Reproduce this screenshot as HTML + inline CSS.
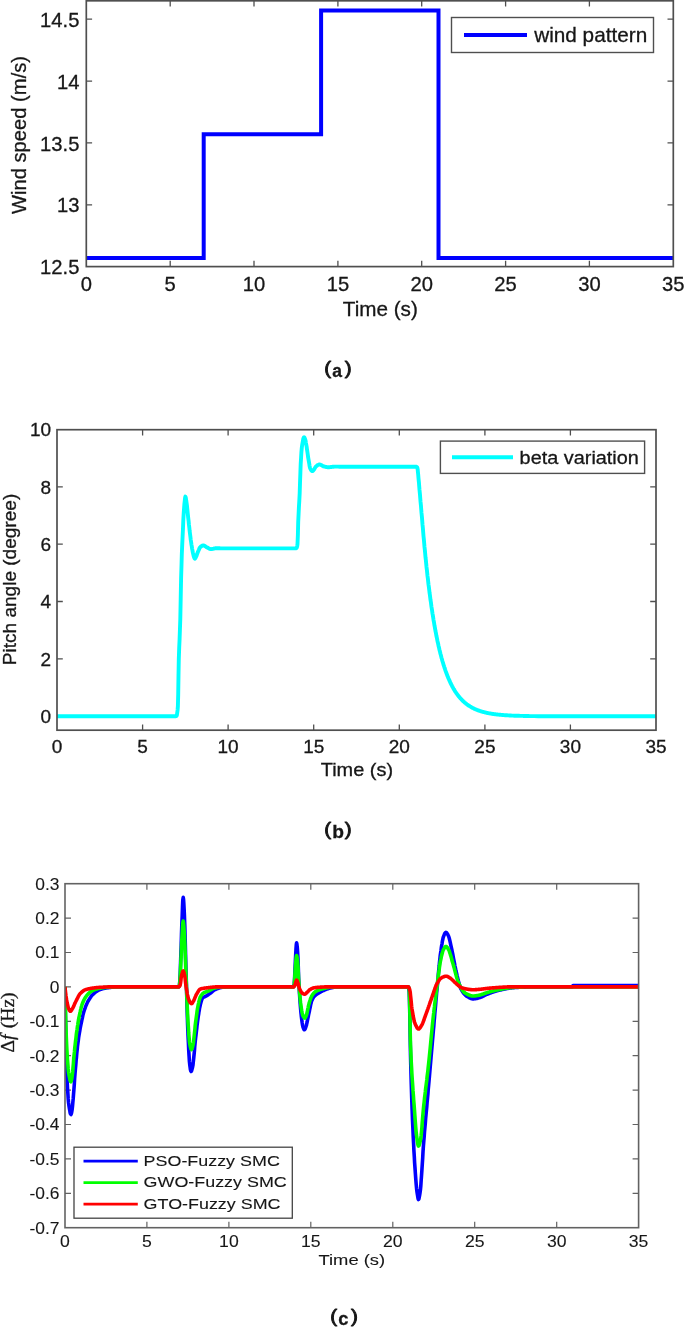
<!DOCTYPE html>
<html><head><meta charset="utf-8"><title>Figure</title>
<style>html,body{margin:0;padding:0;background:#fff;}body{width:685px;height:1327px;overflow:hidden;font-family:"Liberation Sans",sans-serif;}</style>
</head><body>
<svg width="685" height="1327" viewBox="0 0 685 1327" style="display:block">
<defs><filter id="soft" filterUnits="userSpaceOnUse" x="0" y="0" width="685" height="1327"><feGaussianBlur stdDeviation="0.4"/></filter>
<clipPath id="c1"><rect x="86.3" y="0" width="587" height="266.6"/></clipPath>
<clipPath id="c2"><rect x="57" y="429.7" width="599" height="300.3"/></clipPath>
<clipPath id="c3"><rect x="65" y="883.7" width="573.6" height="344"/></clipPath>
</defs>
<rect width="685" height="1327" fill="#fff"/>
<g filter="url(#soft)">
<path stroke="#505050" fill="none" stroke-width="1.3" d="M170.2,266.6v-5.8M170.2,0.8v5.8M254,266.6v-5.8M254,0.8v5.8M337.9,266.6v-5.8M337.9,0.8v5.8M421.7,266.6v-5.8M421.7,0.8v5.8M505.6,266.6v-5.8M505.6,0.8v5.8M589.4,266.6v-5.8M589.4,0.8v5.8M86.3,204.8h5.8M673.3,204.8h-5.8M86.3,142.9h5.8M673.3,142.9h-5.8M86.3,81.1h5.8M673.3,81.1h-5.8M86.3,19.2h5.8M673.3,19.2h-5.8"/>
<path d="M86.3,257.9 203.7,257.9 203.7,134.2 321.1,134.2 321.1,10.5 438.5,10.5 438.5,257.9 673.3,257.9" fill="none" stroke="#0000ff" stroke-width="4" stroke-linejoin="miter" clip-path="url(#c1)"/>
<rect x="86.3" y="0.8" width="587" height="265.8" stroke="#505050" stroke-width="1.7" fill="none"/>
<text x="86.3" y="291" font-family="Liberation Sans, sans-serif" font-size="20.2" text-anchor="middle" fill="#161616" stroke="#161616" stroke-width="0.3" >0</text>
<text x="170.2" y="291" font-family="Liberation Sans, sans-serif" font-size="20.2" text-anchor="middle" fill="#161616" stroke="#161616" stroke-width="0.3" >5</text>
<text x="254" y="291" font-family="Liberation Sans, sans-serif" font-size="20.2" text-anchor="middle" fill="#161616" stroke="#161616" stroke-width="0.3" >10</text>
<text x="337.9" y="291" font-family="Liberation Sans, sans-serif" font-size="20.2" text-anchor="middle" fill="#161616" stroke="#161616" stroke-width="0.3" >15</text>
<text x="421.7" y="291" font-family="Liberation Sans, sans-serif" font-size="20.2" text-anchor="middle" fill="#161616" stroke="#161616" stroke-width="0.3" >20</text>
<text x="505.6" y="291" font-family="Liberation Sans, sans-serif" font-size="20.2" text-anchor="middle" fill="#161616" stroke="#161616" stroke-width="0.3" >25</text>
<text x="589.4" y="291" font-family="Liberation Sans, sans-serif" font-size="20.2" text-anchor="middle" fill="#161616" stroke="#161616" stroke-width="0.3" >30</text>
<text x="673.3" y="291" font-family="Liberation Sans, sans-serif" font-size="20.2" text-anchor="middle" fill="#161616" stroke="#161616" stroke-width="0.3" >35</text>
<text x="79.4" y="274.2" font-family="Liberation Sans, sans-serif" font-size="20.2" text-anchor="end" fill="#161616" stroke="#161616" stroke-width="0.3" >12.5</text>
<text x="79.4" y="212.3" font-family="Liberation Sans, sans-serif" font-size="20.2" text-anchor="end" fill="#161616" stroke="#161616" stroke-width="0.3" >13</text>
<text x="79.4" y="150.5" font-family="Liberation Sans, sans-serif" font-size="20.2" text-anchor="end" fill="#161616" stroke="#161616" stroke-width="0.3" >13.5</text>
<text x="79.4" y="88.7" font-family="Liberation Sans, sans-serif" font-size="20.2" text-anchor="end" fill="#161616" stroke="#161616" stroke-width="0.3" >14</text>
<text x="79.4" y="26.8" font-family="Liberation Sans, sans-serif" font-size="20.2" text-anchor="end" fill="#161616" stroke="#161616" stroke-width="0.3" >14.5</text>
<text transform="translate(380.3,315.8) scale(1.023,1)" font-family="Liberation Sans, sans-serif" font-size="20.2" text-anchor="middle" fill="#161616" stroke="#161616" stroke-width="0.3" >Time (s)</text>
<text transform="translate(25.9,135) rotate(-90) scale(1.0,1.0)" font-family="Liberation Sans, sans-serif" font-size="20.2" text-anchor="middle" fill="#161616" stroke="#161616" stroke-width="0.3">Wind speed (m/s)</text>
<rect x="451.5" y="17.5" width="202" height="35" fill="#fff" stroke="#505050" stroke-width="1.4"/>
<path d="M464,35 H527" stroke="#0000ff" stroke-width="4"/>
<text transform="translate(534.2,42) scale(1.027,1)" font-family="Liberation Sans, sans-serif" font-size="20.2" text-anchor="start" fill="#161616" stroke="#161616" stroke-width="0.3" >wind pattern</text>
<text transform="translate(324.2,374.2) scale(1.15,1)" font-family="Liberation Sans, sans-serif" font-size="18" fill="#161616" stroke="#161616" stroke-width="0.9" stroke-linejoin="round">(</text>
<text x="332.2" y="376.7" font-family="Liberation Sans, sans-serif" font-size="17.5" font-weight="bold" fill="#161616" stroke="#161616" stroke-width="0.3">a</text>
<text transform="translate(344.8,374.2) scale(1.15,1)" font-family="Liberation Sans, sans-serif" font-size="18" fill="#161616" stroke="#161616" stroke-width="0.9" stroke-linejoin="round">)</text>
<path stroke="#505050" fill="none" stroke-width="1.3" d="M142.6,730.2v-5.8M142.6,429.7v5.8M228.1,730.2v-5.8M228.1,429.7v5.8M313.7,730.2v-5.8M313.7,429.7v5.8M399.3,730.2v-5.8M399.3,429.7v5.8M484.9,730.2v-5.8M484.9,429.7v5.8M570.4,730.2v-5.8M570.4,429.7v5.8M57.0,716.3h5.8M656.0,716.3h-5.8M57.0,658.9h5.8M656.0,658.9h-5.8M57.0,601.5h5.8M656.0,601.5h-5.8M57.0,544.2h5.8M656.0,544.2h-5.8M57.0,486.8h5.8M656.0,486.8h-5.8"/>
<path d="M57,716.3 175.5,716.3 175.9,716.2 176.2,716.1 176.6,715.8 176.9,715 177.2,713 177.6,710 177.9,706 178.2,694.4 178.5,675.1 178.8,659 179.2,647.6 179.6,639 179.9,630.3 180.3,619 180.7,598.6 181.1,578 181.5,565.3 181.8,554.5 182.2,545.1 182.6,536.5 183,528.1 183.3,520.3 183.7,513.4 184.1,508 184.4,504 184.8,500.4 185.1,497.7 185.4,496.6 185.8,497.7 186.2,500.2 186.6,503 187,506.1 187.4,509.9 187.8,513.9 188.2,517.7 188.6,520.9 188.9,524.2 189.3,527.4 189.6,530.6 190,533.7 190.4,536.7 190.7,539.5 191.1,542 191.4,544.3 191.8,546.5 192.1,548.6 192.5,550.6 192.8,552.4 193.2,554 193.5,555.3 193.8,556.5 194.2,557.6 194.5,558.4 194.8,558.7 195.2,558.5 195.5,557.9 195.8,557.2 196.2,556.5 196.6,555.6 196.9,554.6 197.3,553.5 197.7,552.5 198,551.7 198.4,550.8 198.8,550 199.1,549.2 199.4,548.4 199.8,547.8 200.2,547.3 200.5,546.9 200.8,546.6 201.2,546.4 201.6,546.1 201.9,545.9 202.2,545.7 202.6,545.6 203,545.5 203.3,545.5 203.7,545.5 204.1,545.6 204.4,545.8 204.8,546 205.2,546.2 205.6,546.5 206,546.7 206.3,547 206.7,547.2 207.1,547.4 207.5,547.6 207.8,547.8 208.2,548 208.6,548.3 208.9,548.5 209.3,548.7 209.7,548.8 210.1,549 210.4,549.1 210.8,549.1 211.2,549.1 211.6,549.1 211.9,549 212.3,548.9 212.7,548.9 213.1,548.8 213.5,548.7 213.8,548.6 214.2,548.5 214.6,548.4 215,548.4 215.4,548.3 215.7,548.2 216.1,548.2 216.5,548.2 216.9,548.2 217.3,548.2 217.7,548.2 218.1,548.2 218.5,548.3 218.9,548.3 219.2,548.3 219.6,548.3 220,548.3 220.4,548.4 220.8,548.4 221.2,548.4 221.6,548.4 222,548.4 295.5,548.4 295.9,548.4 296.2,548.2 296.6,548 296.9,547.4 297.2,546.1 297.5,544 297.9,534.5 298.2,522 298.6,513.9 298.9,507.3 299.3,500.8 299.7,493 300,483.3 300.4,472.3 300.7,463.8 301.1,457.4 301.4,452.1 301.8,447.8 302.2,444.8 302.6,442.5 303,440.4 303.3,438.7 303.7,437.6 304.1,437.2 304.5,437.6 304.8,438.4 305.2,439.5 305.6,440.9 305.9,442.8 306.3,444.8 306.7,447 307,449.4 307.4,452 307.8,454.7 308.1,457.2 308.5,459.4 308.9,461.7 309.3,464 309.6,466.1 310,467.8 310.4,468.9 310.8,469.6 311.2,470.2 311.6,470.7 312,471 312.4,471.1 312.7,471 313,470.7 313.4,470.3 313.7,469.9 314,469.5 314.4,469 314.7,468.4 315.1,467.7 315.4,467.1 315.8,466.7 316.2,466.3 316.6,466 317,465.6 317.4,465.3 317.8,465.1 318.2,464.8 318.6,464.7 319,464.5 319.4,464.5 319.8,464.5 320.1,464.6 320.5,464.7 320.9,464.9 321.2,465.1 321.6,465.3 322,465.5 322.3,465.7 322.7,465.9 323.1,466.1 323.4,466.3 323.8,466.4 324.2,466.5 324.6,466.6 325,466.7 325.4,466.8 325.8,466.9 326.2,467 326.6,467.1 327,467.1 327.4,467.2 327.8,467.2 328.2,467.2 328.6,467.2 329,467.2 329.4,467.2 329.7,467.1 330.1,467.1 330.5,467.1 330.9,467 331.3,467 331.7,466.9 332,466.9 332.4,466.8 332.8,466.8 333.2,466.7 333.6,466.7 334,466.7 334.3,466.6 334.7,466.6 335.1,466.6 335.5,466.6 335.9,466.6 336.3,466.6 336.6,466.6 337,466.6 337.4,466.6 337.8,466.6 338.2,466.6 338.6,466.6 338.9,466.7 339.3,466.7 339.7,466.7 340.1,466.7 340.5,466.7 340.9,466.7 341.2,466.7 341.6,466.7 342,466.7 415.9,466.7 416.2,466.7 416.6,466.8 416.9,467 417.2,467.4 417.4,468.3 417.7,469.5 417.9,471.7 418.2,474.6 418.5,478.3 418.9,482.2 419.2,486.1 419.5,489.9 419.9,493.7 420.2,497.6 420.5,501.4 420.9,505.2 421.2,509.1 421.5,512.9 421.9,516.7 422.2,520.5 422.5,524.5 422.9,528.4 423.2,532.3 423.5,536.1 423.9,539.8 424.2,543.4 424.5,547 424.9,550.5 425.2,553.9 425.5,557.3 425.9,560.5 426.2,563.8 426.5,566.9 426.9,570 427.2,573 427.5,576 427.9,578.8 428.2,581.7 428.5,584.5 428.9,587.2 429.2,589.8 429.5,592.4 429.9,595 430.2,597.5 430.5,599.9 430.9,602.3 431.2,604.7 431.5,607 431.9,609.3 432.2,611.5 432.5,613.6 432.9,615.7 433.2,617.8 433.5,619.8 433.9,621.8 434.2,623.8 434.5,625.7 434.9,627.6 435.2,629.4 435.5,631.2 435.9,632.9 436.2,634.7 436.5,636.3 436.9,638 437.2,639.6 437.5,641.2 437.9,642.7 438.2,644.2 438.5,645.7 438.9,647.2 439.2,648.6 439.5,650 439.9,651.4 440.2,652.7 440.5,654 440.9,655.3 441.2,656.6 441.5,657.8 441.9,659 442.2,660.2 442.5,661.3 442.9,662.5 443.2,663.6 443.5,664.7 443.9,665.7 444.2,666.8 444.5,667.8 444.9,668.8 445.2,669.8 445.5,670.7 445.9,671.7 446.2,672.6 446.5,673.5 446.9,674.4 447.2,675.2 447.5,676.1 447.9,676.9 448.2,677.7 448.5,678.5 448.9,679.3 449.2,680.1 449.5,680.8 449.9,681.5 450.2,682.3 450.5,683 450.9,683.7 451.2,684.3 451.5,685 451.9,685.6 452.2,686.3 452.5,686.9 452.9,687.5 453.2,688.1 453.5,688.7 453.9,689.2 454.2,689.8 454.5,690.3 454.9,690.9 455.2,691.4 455.5,691.9 455.9,692.4 456.2,692.9 456.5,693.4 456.9,693.9 457.2,694.3 457.5,694.8 457.9,695.2 458.2,695.7 458.5,696.1 458.9,696.5 459.2,696.9 459.5,697.3 459.9,697.7 460.2,698.1 460.5,698.5 460.9,698.8 461.2,699.2 461.5,699.5 461.9,699.9 462.2,700.2 462.5,700.6 462.9,700.9 463.2,701.2 463.5,701.5 463.9,701.8 464.2,702.1 464.5,702.4 464.9,702.7 465.2,703 465.5,703.2 465.9,703.5 466.2,703.8 466.5,704 466.9,704.3 467.2,704.5 467.5,704.8 467.9,705 468.2,705.2 468.5,705.5 468.9,705.7 469.2,705.9 469.5,706.1 469.9,706.3 470.2,706.5 470.6,706.8 471,707 471.4,707.2 471.8,707.5 472.2,707.7 472.6,707.9 473,708.1 473.4,708.3 473.8,708.5 474.2,708.7 474.6,708.9 475,709.1 475.4,709.3 475.8,709.4 476.2,709.6 476.6,709.8 477,709.9 477.4,710.1 477.8,710.2 478.2,710.4 478.6,710.5 479,710.7 479.4,710.8 479.8,710.9 480.2,711.1 480.6,711.2 481,711.3 481.4,711.5 481.8,711.6 482.2,711.7 482.6,711.8 483,711.9 483.4,712 483.8,712.1 484.2,712.2 484.6,712.3 485,712.4 485.4,712.5 485.8,712.6 486.2,712.7 486.6,712.8 487,712.9 487.4,713 487.8,713.1 488.2,713.1 488.6,713.2 489,713.3 489.4,713.4 489.8,713.4 490.2,713.5 490.6,713.6 491,713.6 491.4,713.7 491.8,713.8 492.2,713.8 492.6,713.9 493,714 493.4,714 493.8,714.1 494.2,714.1 494.6,714.2 495,714.2 495.4,714.3 495.8,714.3 496.2,714.4 496.6,714.4 497,714.5 497.4,714.5 497.8,714.6 498.2,714.6 498.6,714.6 499,714.7 499.4,714.7 499.8,714.8 500.2,714.8 500.6,714.8 501,714.9 501.4,714.9 501.8,714.9 502.2,715 502.6,715 503,715 503.4,715.1 503.8,715.1 504.2,715.1 504.6,715.2 505,715.2 505.4,715.2 505.8,715.2 506.2,715.3 506.6,715.3 507,715.3 507.4,715.3 507.8,715.4 508.2,715.4 508.6,715.4 509,715.4 509.4,715.5 509.8,715.5 510.2,715.5 510.6,715.5 510.9,715.5 511.3,715.6 511.7,715.6 512,715.6 512.4,715.6 512.7,715.6 513.1,715.6 513.5,715.6 513.8,715.7 514.2,715.7 514.6,715.7 515,715.7 515.4,715.7 515.8,715.7 516.2,715.7 516.6,715.8 517,715.8 517.4,715.8 517.8,715.8 518.2,715.8 518.6,715.8 519,715.8 519.4,715.8 519.8,715.9 520.2,715.9 520.6,715.9 521,715.9 521.4,715.9 521.8,715.9 522.2,715.9 522.6,715.9 523,715.9 523.4,715.9 523.8,716 524.2,716 524.6,716 525,716 525.4,716 525.8,716 526.2,716 526.6,716 527,716 527.4,716 527.8,716 528.2,716 528.6,716 529,716.1 529.4,716.1 529.8,716.1 530.2,716.1 530.6,716.1 531,716.1 531.4,716.1 531.8,716.1 532.2,716.1 532.6,716.1 533,716.1 533.4,716.1 533.8,716.1 534.2,716.1 538.2,716.2 542.2,716.2 542.6,716.2 543,716.2 543.4,716.2 543.7,716.2 544.1,716.2 544.5,716.2 544.9,716.2 545.3,716.3 545.7,716.3 546.1,716.3 546.5,716.3 546.8,716.3 547.2,716.3 547.6,716.3 548,716.3 656,716.3" fill="none" stroke="#00ffff" stroke-width="3.9" stroke-linejoin="round" clip-path="url(#c2)"/>
<rect x="57.0" y="429.7" width="599" height="300.5" stroke="#505050" stroke-width="1.7" fill="none"/>
<text x="57" y="753.3" font-family="Liberation Sans, sans-serif" font-size="19" text-anchor="middle" fill="#161616" stroke="#161616" stroke-width="0.3" >0</text>
<text x="142.6" y="753.3" font-family="Liberation Sans, sans-serif" font-size="19" text-anchor="middle" fill="#161616" stroke="#161616" stroke-width="0.3" >5</text>
<text x="228.1" y="753.3" font-family="Liberation Sans, sans-serif" font-size="19" text-anchor="middle" fill="#161616" stroke="#161616" stroke-width="0.3" >10</text>
<text x="313.7" y="753.3" font-family="Liberation Sans, sans-serif" font-size="19" text-anchor="middle" fill="#161616" stroke="#161616" stroke-width="0.3" >15</text>
<text x="399.3" y="753.3" font-family="Liberation Sans, sans-serif" font-size="19" text-anchor="middle" fill="#161616" stroke="#161616" stroke-width="0.3" >20</text>
<text x="484.9" y="753.3" font-family="Liberation Sans, sans-serif" font-size="19" text-anchor="middle" fill="#161616" stroke="#161616" stroke-width="0.3" >25</text>
<text x="570.4" y="753.3" font-family="Liberation Sans, sans-serif" font-size="19" text-anchor="middle" fill="#161616" stroke="#161616" stroke-width="0.3" >30</text>
<text x="656" y="753.3" font-family="Liberation Sans, sans-serif" font-size="19" text-anchor="middle" fill="#161616" stroke="#161616" stroke-width="0.3" >35</text>
<text x="51.2" y="723.2" font-family="Liberation Sans, sans-serif" font-size="19" text-anchor="end" fill="#161616" stroke="#161616" stroke-width="0.3" >0</text>
<text x="51.2" y="665.8" font-family="Liberation Sans, sans-serif" font-size="19" text-anchor="end" fill="#161616" stroke="#161616" stroke-width="0.3" >2</text>
<text x="51.2" y="608.4" font-family="Liberation Sans, sans-serif" font-size="19" text-anchor="end" fill="#161616" stroke="#161616" stroke-width="0.3" >4</text>
<text x="51.2" y="551.1" font-family="Liberation Sans, sans-serif" font-size="19" text-anchor="end" fill="#161616" stroke="#161616" stroke-width="0.3" >6</text>
<text x="51.2" y="493.7" font-family="Liberation Sans, sans-serif" font-size="19" text-anchor="end" fill="#161616" stroke="#161616" stroke-width="0.3" >8</text>
<text x="51.2" y="436.3" font-family="Liberation Sans, sans-serif" font-size="19" text-anchor="end" fill="#161616" stroke="#161616" stroke-width="0.3" >10</text>
<text transform="translate(356.9,775.7) scale(1.09,1)" font-family="Liberation Sans, sans-serif" font-size="18.3" text-anchor="middle" fill="#161616" stroke="#161616" stroke-width="0.3" >Time (s)</text>
<text transform="translate(15.9,579.5) rotate(-90) scale(1.03,1.0)" font-family="Liberation Sans, sans-serif" font-size="18.5" text-anchor="middle" fill="#161616" stroke="#161616" stroke-width="0.3">Pitch angle (degree)</text>
<rect x="440.4" y="441.1" width="204.2" height="32.3" fill="#fff" stroke="#505050" stroke-width="1.4"/>
<path d="M452,457.2 H513" stroke="#00ffff" stroke-width="4"/>
<text transform="translate(519.6,463.6) scale(1.075,1)" font-family="Liberation Sans, sans-serif" font-size="18.5" text-anchor="start" fill="#161616" stroke="#161616" stroke-width="0.3" >beta variation</text>
<text transform="translate(324.2,835) scale(1.15,1)" font-family="Liberation Sans, sans-serif" font-size="18" fill="#161616" stroke="#161616" stroke-width="0.9" stroke-linejoin="round">(</text>
<text x="332.2" y="837.5" font-family="Liberation Sans, sans-serif" font-size="19.2" font-weight="bold" fill="#161616" stroke="#161616" stroke-width="0.3">b</text>
<text transform="translate(344.8,835) scale(1.15,1)" font-family="Liberation Sans, sans-serif" font-size="18" fill="#161616" stroke="#161616" stroke-width="0.9" stroke-linejoin="round">)</text>
<path stroke="#626262" fill="none" stroke-width="1.2" d="M146.9,1227.7v-6M146.9,883.7v6M228.9,1227.7v-6M228.9,883.7v6M310.8,1227.7v-6M310.8,883.7v6M392.8,1227.7v-6M392.8,883.7v6M474.7,1227.7v-6M474.7,883.7v6M556.7,1227.7v-6M556.7,883.7v6M65.0,1193.3h6M638.6,1193.3h-6M65.0,1158.9h6M638.6,1158.9h-6M65.0,1124.5h6M638.6,1124.5h-6M65.0,1090.1h6M638.6,1090.1h-6M65.0,1055.7h6M638.6,1055.7h-6M65.0,1021.3h6M638.6,1021.3h-6M65.0,986.9h6M638.6,986.9h-6M65.0,952.5h6M638.6,952.5h-6M65.0,918.1h6M638.6,918.1h-6"/>
<g clip-path="url(#c3)" fill="none" stroke-linejoin="round">
<path d="M65,986.9 65.2,1004.7 65.5,1020 65.9,1040 66.3,1056 66.6,1065.8 66.9,1074.6 67.2,1082.1 67.5,1088 67.9,1093.9 68.2,1098.9 68.6,1103 69,1106 69.4,1108.5 69.8,1110.8 70.1,1112.7 70.5,1114 70.9,1114.5 71.2,1114 71.6,1112.7 71.9,1111 72.2,1109 72.5,1106.4 72.8,1102.8 73.2,1098.7 73.5,1094.6 73.9,1089.7 74.3,1084.4 74.6,1079 75,1073.8 75.4,1069 75.8,1064.8 76.1,1060.8 76.5,1056.8 76.8,1053.1 77.2,1049.6 77.5,1046.3 77.9,1043.3 78.3,1040.5 78.6,1037.8 79,1035.3 79.4,1033 79.8,1030.8 80.1,1028.7 80.5,1026.7 80.9,1024.7 81.3,1022.8 81.7,1020.9 82.1,1019 82.5,1017.3 82.8,1015.6 83.2,1014.1 83.6,1012.6 84,1011.2 84.4,1010 84.8,1008.9 85.2,1007.8 85.5,1006.8 85.9,1005.8 86.3,1004.9 86.7,1004 87.1,1003.2 87.4,1002.4 87.8,1001.7 88.2,1001 88.6,1000.3 89,999.7 89.4,999 89.8,998.4 90.2,997.8 90.6,997.2 90.9,996.7 91.3,996.2 91.7,995.7 92.1,995.2 92.5,994.8 92.9,994.4 93.3,994 93.7,993.7 94.1,993.3 94.4,993 94.8,992.7 95.2,992.4 95.6,992.1 95.9,991.8 96.3,991.5 96.7,991.3 97.1,991 97.4,990.8 97.8,990.6 98.2,990.4 98.6,990.2 98.9,990 99.3,989.8 99.7,989.7 100.1,989.6 100.5,989.4 100.9,989.3 101.3,989.2 101.7,989.1 102,988.9 102.4,988.8 102.8,988.7 103.2,988.6 103.6,988.5 104,988.4 104.4,988.3 104.8,988.2 105.2,988.2 105.6,988.1 106,988 106.4,987.9 106.7,987.9 107.1,987.8 107.5,987.8 107.9,987.7 108.3,987.6 108.7,987.6 109.1,987.6 109.5,987.5 109.9,987.5 110.2,987.4 110.6,987.4 111,987.3 111.4,987.3 111.8,987.3 112.2,987.2 112.6,987.2 113,987.2 113.3,987.1 113.7,987.1 114.1,987.1 114.5,987 114.9,987 115.3,987 115.7,987 116.1,986.9 116.5,986.9 116.8,986.9 117.2,986.9 117.6,986.9 118,986.9 178.5,986.9 178.8,986.7 179.2,986 179.5,985 179.8,981.1 180.2,973.5 180.5,965 180.8,955.8 181.2,945 181.5,934.2 181.8,925 182.2,915.9 182.5,907 182.8,900.1 183.2,897.4 183.5,899 183.8,903.2 184.1,908.8 184.4,915 184.8,925.6 185.2,939.8 185.6,955.4 186,970 186.4,983.9 186.8,998.3 187.2,1012.2 187.6,1024.8 188,1035 188.4,1042.7 188.7,1049.9 189.1,1056.3 189.4,1061.4 189.8,1065 190.1,1067.4 190.4,1069.5 190.8,1070.9 191.1,1071.5 191.5,1071.1 191.8,1070.1 192.2,1068.6 192.6,1067 193,1064.9 193.3,1061.9 193.7,1058.3 194.1,1054.3 194.5,1050 194.8,1045.7 195.2,1041.7 195.6,1038.1 196,1034.7 196.4,1031.3 196.8,1028 197.1,1024.9 197.5,1021.9 197.9,1019.1 198.2,1016.7 198.6,1014.4 198.9,1012.2 199.3,1010.1 199.6,1008.1 200,1006.4 200.3,1004.9 200.7,1003.3 201.1,1001.8 201.5,1000.4 201.9,999.3 202.3,998.4 202.7,997.8 203.1,997.5 203.4,997.3 203.8,997.1 204.1,996.9 204.5,996.8 204.8,996.7 205.2,996.5 205.5,996.4 205.9,996.2 206.3,996 206.7,995.7 207.1,995.5 207.5,995.2 207.9,995 208.2,994.7 208.6,994.4 209,994.1 209.4,993.9 209.8,993.6 210.2,993.3 210.6,993 211,992.7 211.4,992.4 211.8,992 212.2,991.7 212.6,991.3 212.9,991 213.3,990.7 213.7,990.4 214.1,990.1 214.5,989.9 214.9,989.7 215.3,989.5 215.7,989.4 216.1,989.2 216.5,989 216.9,988.8 217.3,988.7 217.7,988.5 218.1,988.4 218.5,988.2 218.8,988.1 219.2,988 219.6,987.9 220,987.7 220.4,987.6 220.8,987.5 221.2,987.5 221.6,987.4 222,987.3 222.4,987.3 222.8,987.2 223.2,987.2 223.6,987.2 224,987.2 224.3,987.1 224.7,987.1 225.1,987.1 225.5,987.1 225.9,987.1 226.3,987 226.6,987 227,987 227.4,987 227.8,987 228.2,987 228.6,987 228.9,986.9 229.3,986.9 229.7,986.9 230.1,986.9 230.5,986.9 230.9,986.9 231.2,986.9 231.6,986.9 232,986.9 293.2,986.9 293.5,986.5 293.9,985.5 294.2,984 294.6,978.4 295,968.8 295.4,960 295.7,954.5 296,948.9 296.3,944.5 296.6,942.8 296.9,944.2 297.3,947.7 297.6,952 298,958.5 298.3,967.6 298.6,977.2 299,985 299.4,991.9 299.8,998.2 300.2,1003.9 300.6,1008.8 301,1013 301.4,1016.7 301.8,1020 302.2,1023 302.6,1025.4 303,1027 303.4,1028 303.7,1028.9 304,1029.6 304.4,1029.8 304.7,1029.6 305,1029.1 305.4,1028.3 305.7,1027.4 306,1026.5 306.4,1025.4 306.7,1023.9 307.1,1022.3 307.4,1020.6 307.8,1018.7 308.2,1016.9 308.5,1015.1 308.9,1013.4 309.3,1011.7 309.6,1009.9 310,1008.1 310.4,1006.2 310.7,1004.5 311.1,1003 311.4,1001.6 311.8,1000.6 312.2,999.8 312.5,999 312.9,998.4 313.2,997.8 313.6,997.2 314,996.7 314.3,996.3 314.7,995.9 315.1,995.5 315.5,995.2 315.9,994.8 316.3,994.5 316.7,994.3 317,994 317.4,993.8 317.8,993.5 318.2,993.3 318.6,993.1 319,992.8 319.4,992.6 319.8,992.4 320.2,992.2 320.6,991.9 320.9,991.7 321.3,991.5 321.7,991.3 322.1,991.1 322.5,990.9 322.9,990.7 323.3,990.5 323.7,990.4 324,990.2 324.4,990 324.8,989.9 325.2,989.7 325.6,989.5 326,989.4 326.4,989.2 326.8,989.1 327.2,989 327.6,988.8 328,988.7 328.3,988.5 328.7,988.4 329.1,988.3 329.5,988.2 329.9,988.1 330.3,988 330.7,987.9 331.1,987.8 331.5,987.7 331.9,987.6 332.3,987.6 332.7,987.5 333.1,987.4 333.5,987.3 333.9,987.2 334.2,987.2 334.6,987.1 335,987 335.4,987 335.8,987 336.2,986.9 336.6,986.9 337,986.9 408.3,986.9 408.6,987.6 408.9,989.4 409.2,992 409.5,1001.2 409.9,1018.7 410.2,1038.5 410.5,1055 410.9,1070.3 411.3,1084.6 411.7,1097.7 412.1,1109.5 412.5,1120 412.9,1128.4 413.2,1136.3 413.6,1143.6 413.9,1150.4 414.3,1156.7 414.6,1162.6 415,1168 415.4,1173.8 415.8,1179.3 416.2,1184.4 416.6,1188.7 417,1192 417.4,1194.6 417.8,1197 418.1,1198.8 418.5,1199.5 418.9,1198.9 419.2,1197.4 419.6,1195.3 420,1193 420.4,1190.1 420.8,1186.1 421.1,1181.4 421.5,1175.9 421.9,1170.1 422.3,1163.9 422.7,1157.8 423,1151.8 423.4,1146.1 423.8,1141 424.2,1136.4 424.5,1131.9 424.9,1127.6 425.3,1123.3 425.6,1119 426,1114.8 426.4,1110.7 426.8,1106.5 427.1,1102.4 427.5,1098.3 427.9,1094.1 428.2,1089.9 428.6,1085.7 429,1081.1 429.4,1076.5 429.8,1071.8 430.2,1067.2 430.6,1062.5 431,1057.9 431.4,1053.3 431.8,1048.6 432.2,1044 432.6,1039.4 433,1034.8 433.4,1030.2 433.8,1026.1 434.1,1021.9 434.5,1017.7 434.8,1013.5 435.2,1009.3 435.6,1005.2 435.9,1001.1 436.3,997.1 436.6,993.1 437,989.2 437.4,985.3 437.7,981.3 438.1,977.4 438.4,973.4 438.8,969.5 439.2,965.8 439.5,962.2 439.9,958.8 440.2,955.8 440.6,953 441,950.4 441.3,947.9 441.7,945.4 442.1,943.2 442.4,941.1 442.8,939.3 443.1,937.8 443.5,936.6 443.9,935.6 444.3,934.6 444.7,933.7 445.1,933 445.5,932.6 445.9,932.4 446.2,932.5 446.6,932.8 446.9,933.2 447.3,933.7 447.6,934.3 448,934.9 448.3,935.6 448.7,936.5 449.1,937.8 449.5,939.3 449.9,940.9 450.3,942.7 450.7,944.6 451.1,946.4 451.5,948.2 451.9,949.9 452.2,951.7 452.6,953.5 453,955.4 453.3,957.4 453.7,959.4 454.1,961.4 454.5,963.4 454.8,965.3 455.2,967.2 455.6,969 455.9,970.7 456.3,972.3 456.7,973.8 457,975.4 457.4,976.9 457.8,978.5 458.1,980 458.5,981.4 458.9,982.8 459.3,984.2 459.6,985.4 460,986.5 460.4,987.6 460.7,988.5 461.1,989.2 461.5,989.9 461.9,990.5 462.2,991.1 462.6,991.7 463,992.3 463.4,992.8 463.8,993.3 464.1,993.8 464.5,994.2 464.9,994.6 465.3,995 465.7,995.4 466.1,995.7 466.4,996 466.8,996.3 467.2,996.5 467.6,996.7 468,997 468.4,997.2 468.8,997.4 469.2,997.7 469.6,997.9 470,998.1 470.4,998.2 470.8,998.4 471.2,998.5 471.6,998.7 472,998.8 472.4,998.8 472.8,998.9 473.2,998.9 473.6,998.9 474,998.9 474.3,998.8 474.7,998.8 475.1,998.7 475.5,998.7 475.8,998.6 476.2,998.5 476.6,998.4 477,998.4 477.4,998.3 477.7,998.2 478.1,998 478.5,997.9 478.9,997.8 479.2,997.7 479.6,997.6 480,997.5 480.4,997.4 480.8,997.2 481.1,997.1 481.5,996.9 481.9,996.8 482.3,996.6 482.7,996.4 483.1,996.2 483.4,996 483.8,995.8 484.2,995.6 484.6,995.4 485,995.2 485.4,995 485.7,994.8 486.1,994.7 486.5,994.5 486.9,994.3 487.3,994.2 487.7,994 488.1,993.9 488.5,993.7 488.9,993.6 489.3,993.4 489.7,993.2 490.1,993.1 490.5,992.9 490.9,992.8 491.3,992.6 491.7,992.5 492.1,992.3 492.5,992.2 492.9,992.1 493.3,991.9 493.7,991.8 494.1,991.7 494.5,991.5 494.9,991.4 495.3,991.3 495.7,991.1 496.1,991 496.5,990.9 496.9,990.8 497.3,990.7 497.7,990.6 498.1,990.5 498.5,990.4 498.9,990.3 499.3,990.2 499.7,990.1 500.1,990 500.5,989.9 500.9,989.9 501.3,989.8 501.6,989.7 502,989.6 502.4,989.5 502.8,989.4 503.2,989.3 503.6,989.2 504,989.2 504.4,989.1 504.8,989 505.2,988.9 505.6,988.8 506,988.8 506.4,988.7 506.8,988.6 507.1,988.5 507.5,988.5 507.9,988.4 508.3,988.3 508.7,988.3 509.1,988.2 509.5,988.1 509.9,988.1 510.3,988 510.7,988 511.1,987.9 511.5,987.9 511.9,987.8 512.3,987.8 512.6,987.7 513,987.7 513.4,987.6 513.8,987.6 514.2,987.6 514.6,987.5 515,987.5 515.4,987.5 515.8,987.5 516.2,987.5 516.6,987.4 517,987.4 517.4,987.4 517.8,987.4 518.1,987.4 518.5,987.3 518.9,987.3 519.3,987.3 519.7,987.3 520.1,987.3 520.5,987.3 520.9,987.2 521.3,987.2 521.7,987.2 522.1,987.2 522.5,987.2 522.8,987.2 523.2,987.1 523.6,987.1 524,987.1 524.4,987.1 524.8,987.1 525.2,987.1 525.6,987.1 526,987 526.4,987 526.8,987 527.2,987 527.6,987 527.9,987 528.3,987 528.7,987 529.1,987 529.5,987 529.9,986.9 530.3,986.9 530.7,986.9 531.1,986.9 531.5,986.9 531.9,986.9 532.3,986.9 532.6,986.9 533,986.9 533.4,986.9 533.8,986.9 534.2,986.9 534.6,986.9 535,986.9 572,986.9 572.3,986.6 572.7,985.9 573,985.6 638.6,985.6" stroke="#0000ff" stroke-width="3.6"/>
<path d="M65,986.9 65.2,999.2 65.5,1010 65.9,1025 66.3,1037 66.6,1044 66.9,1050.2 67.2,1055.6 67.5,1060 67.9,1064.8 68.2,1069 68.6,1072.5 69,1075 69.4,1077 69.8,1078.9 70.1,1080.4 70.5,1081.4 70.9,1081.8 71.2,1081.2 71.6,1079.6 72,1077.4 72.3,1075 72.7,1071.9 73,1067.9 73.4,1063.4 73.7,1058.9 74.1,1054.9 74.5,1051.2 74.8,1047.6 75.2,1044.2 75.6,1040.8 76,1037.6 76.3,1034.6 76.7,1031.8 77.1,1029.3 77.4,1026.8 77.8,1024.5 78.1,1022.3 78.5,1020.2 78.8,1018.2 79.2,1016.4 79.6,1014.7 79.9,1013 80.3,1011.4 80.6,1009.8 81,1008.4 81.3,1007 81.7,1005.7 82,1004.6 82.4,1003.6 82.8,1002.7 83.2,1001.8 83.5,1000.9 83.9,1000.1 84.3,999.4 84.7,998.7 85,998 85.4,997.4 85.8,996.8 86.2,996.3 86.5,995.8 86.9,995.3 87.3,994.8 87.7,994.4 88.1,994 88.5,993.5 88.9,993.2 89.3,992.8 89.7,992.4 90.1,992.1 90.5,991.8 90.9,991.5 91.3,991.3 91.7,991 92.1,990.8 92.5,990.6 92.9,990.4 93.2,990.2 93.6,990.1 94,989.9 94.4,989.8 94.7,989.6 95.1,989.5 95.5,989.3 95.9,989.2 96.2,989.1 96.6,989 97,988.9 97.4,988.8 97.7,988.7 98.1,988.6 98.5,988.5 98.9,988.4 99.3,988.3 99.7,988.3 100,988.2 100.4,988.1 100.8,988.1 101.2,988 101.6,987.9 102,987.9 102.3,987.8 102.7,987.8 103.1,987.7 103.5,987.7 103.9,987.6 104.3,987.6 104.7,987.5 105,987.5 105.4,987.5 105.8,987.4 106.2,987.4 106.6,987.4 107,987.3 107.4,987.3 107.8,987.3 108.2,987.2 108.6,987.2 109,987.2 109.4,987.1 109.8,987.1 110.2,987.1 110.6,987.1 111,987 111.4,987 111.8,987 112.2,987 112.6,987 113,986.9 113.4,986.9 113.8,986.9 114.2,986.9 114.6,986.9 115,986.9 178.5,986.9 178.8,986.7 179.2,986 179.5,985 179.8,981.9 180.2,976.3 180.5,970 180.8,963.1 181.2,954.8 181.5,946.7 181.8,940 182.2,933.7 182.5,927.6 182.8,922.9 183.2,921.1 183.5,922.4 183.8,925.7 184.1,930.2 184.4,935 184.8,942.9 185.2,953.3 185.6,964.5 186,975 186.4,985.1 186.8,995.5 187.2,1005.5 187.6,1014.6 188,1022 188.4,1027.7 188.7,1033 189.1,1037.6 189.4,1041.4 189.8,1044 190.2,1046.1 190.6,1047.9 191,1049.1 191.4,1049.6 191.8,1049.2 192.2,1048.1 192.6,1046.7 193,1045 193.4,1043 193.7,1040.1 194.1,1036.6 194.5,1032.9 194.9,1029.1 195.2,1025.5 195.6,1022.3 196,1019.4 196.4,1016.4 196.8,1013.6 197.1,1011 197.5,1008.6 197.9,1006.5 198.2,1004.8 198.6,1003.1 198.9,1001.6 199.3,1000.1 199.6,998.9 200,997.8 200.3,997 200.7,996.3 201.1,995.6 201.5,995 201.9,994.5 202.3,994 202.7,993.6 203.1,993.3 203.5,993 203.9,992.8 204.3,992.5 204.7,992.3 205.1,992.2 205.5,992 205.9,991.9 206.2,991.7 206.6,991.6 207,991.4 207.4,991.3 207.8,991.2 208.2,991 208.6,990.9 209,990.7 209.4,990.5 209.7,990.3 210.1,990.1 210.5,989.9 210.8,989.7 211.2,989.5 211.6,989.3 212,989.1 212.3,988.9 212.7,988.7 213.1,988.5 213.4,988.4 213.8,988.3 214.2,988.2 214.6,988.1 215,988 215.4,987.9 215.8,987.8 216.2,987.8 216.5,987.7 216.9,987.6 217.3,987.5 217.7,987.4 218.1,987.4 218.5,987.3 218.9,987.3 219.3,987.2 219.7,987.1 220.1,987.1 220.5,987 220.8,987 221.2,987 221.6,987 222,986.9 222.4,986.9 222.8,986.9 223.2,986.9 293.2,986.9 293.5,986.6 293.9,985.7 294.2,984.5 294.6,980.3 295,973.2 295.4,967 295.7,963.3 296,959.6 296.3,956.7 296.6,955.6 296.9,956.6 297.3,959 297.6,962 298,966.5 298.3,972.8 298.6,979.4 299,985 299.4,990.1 299.8,994.8 300.2,999.1 300.6,1002.9 301,1006 301.4,1008.7 301.8,1011.1 302.2,1013.2 302.6,1014.9 303,1016 303.4,1016.6 303.7,1017.2 304.1,1017.7 304.4,1018 304.8,1018.1 305.2,1017.9 305.6,1017.2 305.9,1016.4 306.3,1015.5 306.7,1014.4 307,1012.9 307.4,1011.1 307.8,1009.2 308.2,1007.3 308.5,1005.6 308.9,1004.1 309.3,1002.9 309.6,1001.6 310,1000.5 310.4,999.4 310.7,998.3 311.1,997.4 311.4,996.6 311.8,995.9 312.2,995.3 312.6,994.7 313,994.1 313.4,993.6 313.7,993.2 314.1,992.8 314.5,992.4 314.9,992.1 315.3,991.8 315.7,991.5 316.1,991.3 316.5,991.1 316.9,990.9 317.3,990.7 317.7,990.5 318.1,990.3 318.5,990.2 318.9,990 319.3,989.9 319.7,989.7 320.1,989.6 320.5,989.5 320.9,989.3 321.3,989.2 321.7,989.1 322.1,989 322.5,988.9 322.9,988.8 323.3,988.7 323.7,988.6 324.1,988.5 324.5,988.4 324.8,988.3 325.2,988.2 325.6,988.1 326,988 326.4,987.9 326.8,987.8 327.2,987.8 327.6,987.7 328,987.6 328.4,987.6 328.8,987.5 329.1,987.4 329.5,987.3 329.9,987.2 330.3,987.2 330.7,987.1 331.1,987.1 331.5,987 331.8,987 332.2,986.9 332.6,986.9 333,986.9 408.3,986.9 408.6,987.3 408.9,988.4 409.2,990 409.5,998 409.9,1013.9 410.2,1031.5 410.5,1044.7 410.9,1053.7 411.2,1061.4 411.6,1068.1 411.9,1074.2 412.3,1080 412.7,1085.6 413,1090.7 413.4,1095.6 413.7,1100.3 414.1,1105 414.5,1110.5 414.9,1116.1 415.3,1121.7 415.7,1126.9 416.1,1131.4 416.5,1135 416.9,1138.1 417.3,1141 417.7,1143.6 418.1,1145.3 418.5,1146 418.9,1145.7 419.2,1145 419.6,1143.8 419.9,1142.5 420.3,1141 420.7,1138.9 421.1,1135.8 421.5,1132 421.9,1127.6 422.2,1122.9 422.6,1118.1 423,1113.4 423.4,1109 423.8,1105 424.2,1101.6 424.5,1098.3 424.9,1095.1 425.3,1092 425.6,1089 426,1085.9 426.4,1082.9 426.8,1079.9 427.1,1076.8 427.5,1073.8 427.9,1070.6 428.2,1067.4 428.6,1064 429,1060.2 429.4,1056.3 429.8,1052.2 430.2,1048.1 430.6,1043.9 431,1039.6 431.4,1035.4 431.8,1031.3 432.2,1027.2 432.6,1023.2 433,1019.4 433.4,1015.7 433.8,1012.5 434.1,1009.5 434.5,1006.5 434.8,1003.6 435.2,1000.7 435.6,997.9 435.9,995.1 436.3,992.3 436.6,989.6 437,986.8 437.4,984 437.7,981.1 438.1,978.1 438.4,975.2 438.8,972.3 439.2,969.5 439.5,966.9 439.9,964.4 440.2,962.2 440.6,960.3 441,958.6 441.3,956.9 441.7,955.3 442.1,953.8 442.4,952.5 442.8,951.3 443.1,950.3 443.5,949.5 443.9,948.8 444.3,948.1 444.7,947.4 445.1,947 445.5,946.6 445.9,946.5 446.3,946.6 446.6,946.8 447,947.2 447.4,947.7 447.8,948.3 448.1,948.9 448.5,949.5 448.9,950.2 449.3,951.1 449.6,952.2 450,953.3 450.4,954.6 450.8,955.9 451.2,957.3 451.6,958.7 451.9,960.1 452.3,961.4 452.7,962.7 453.1,964 453.5,965.5 453.9,966.9 454.3,968.4 454.7,970 455.1,971.5 455.5,973 455.9,974.5 456.3,976 456.7,977.4 457.1,978.8 457.5,980 457.9,981.2 458.3,982.3 458.7,983.2 459.1,984 459.5,984.8 459.8,985.6 460.2,986.4 460.6,987.1 461,987.8 461.4,988.5 461.8,989.2 462.1,989.8 462.5,990.4 462.9,990.9 463.3,991.4 463.7,991.8 464,992.2 464.4,992.5 464.8,992.8 465.2,993.1 465.6,993.3 466,993.5 466.4,993.8 466.8,994 467.2,994.2 467.6,994.4 468,994.6 468.4,994.8 468.8,995 469.2,995.1 469.6,995.3 470,995.4 470.4,995.6 470.8,995.7 471.2,995.8 471.6,995.9 472,995.9 472.4,996 472.8,996 473.2,996 473.6,996 474,996 474.3,996 474.7,995.9 475.1,995.9 475.5,995.8 475.8,995.8 476.2,995.7 476.6,995.7 477,995.6 477.4,995.5 477.7,995.5 478.1,995.4 478.5,995.3 478.9,995.2 479.2,995.2 479.6,995.1 480,995 480.4,994.9 480.8,994.8 481.1,994.7 481.5,994.6 481.9,994.5 482.3,994.3 482.7,994.2 483.1,994 483.4,993.9 483.8,993.8 484.2,993.6 484.6,993.5 485,993.3 485.4,993.2 485.7,993 486.1,992.9 486.5,992.8 486.9,992.7 487.3,992.6 487.7,992.4 488.1,992.3 488.5,992.2 488.9,992.1 489.3,992 489.7,991.9 490.1,991.7 490.5,991.6 490.9,991.5 491.3,991.4 491.7,991.3 492.1,991.2 492.5,991.1 492.9,991 493.3,990.9 493.7,990.8 494.1,990.7 494.5,990.6 494.9,990.5 495.3,990.4 495.7,990.3 496.1,990.2 496.5,990.1 496.9,990 497.3,989.9 497.7,989.9 498.1,989.8 498.5,989.7 498.9,989.6 499.3,989.6 499.7,989.5 500.1,989.4 500.5,989.3 500.9,989.3 501.3,989.2 501.6,989.1 502,989 502.4,989 502.8,988.9 503.2,988.8 503.6,988.8 504,988.7 504.4,988.6 504.8,988.5 505.2,988.5 505.6,988.4 506,988.3 506.4,988.3 506.8,988.2 507.1,988.2 507.5,988.1 507.9,988 508.3,988 508.7,987.9 509.1,987.9 509.5,987.8 509.9,987.8 510.3,987.7 510.7,987.7 511.1,987.6 511.5,987.6 511.9,987.5 512.3,987.5 512.6,987.5 513,987.4 513.4,987.4 513.8,987.4 514.2,987.4 514.6,987.3 515,987.3 515.4,987.3 515.8,987.3 516.2,987.3 516.6,987.3 517,987.2 517.4,987.2 517.8,987.2 518.1,987.2 518.5,987.2 518.9,987.2 519.3,987.2 519.7,987.2 520.1,987.1 520.5,987.1 520.9,987.1 521.3,987.1 521.7,987.1 522.1,987.1 522.5,987.1 522.8,987.1 523.2,987.1 523.6,987 524,987 524.4,987 524.8,987 525.2,987 525.6,987 526,987 526.4,987 526.8,987 527.2,987 527.6,987 527.9,987 528.3,987 528.7,986.9 529.1,986.9 529.5,986.9 529.9,986.9 530.3,986.9 530.7,986.9 531.1,986.9 531.5,986.9 531.9,986.9 532.3,986.9 532.6,986.9 533,986.9 533.4,986.9 533.8,986.9 534.2,986.9 534.6,986.9 535,986.9 638.6,986.9" stroke="#00ff00" stroke-width="3.6"/>
<path d="M65,986.9 65.3,990.3 65.7,993.4 66,996 66.3,998 66.6,999.9 66.9,1001.5 67.2,1003 67.6,1004.7 68,1006.4 68.3,1007.8 68.7,1008.8 69.1,1009.7 69.5,1010.5 69.9,1011.1 70.3,1011.3 70.7,1011.2 71,1010.8 71.4,1010.3 71.8,1009.7 72.1,1009.1 72.5,1008.5 72.9,1007.9 73.2,1007.2 73.6,1006.4 74,1005.5 74.3,1004.7 74.7,1003.8 75,1003 75.4,1002.3 75.8,1001.5 76.2,1000.7 76.6,999.9 77,999.1 77.4,998.3 77.8,997.6 78.1,996.8 78.5,996.1 78.9,995.4 79.3,994.8 79.7,994.2 80.1,993.7 80.5,993.3 80.9,992.9 81.3,992.5 81.7,992.2 82.1,991.8 82.5,991.5 82.9,991.2 83.2,990.9 83.6,990.7 84,990.4 84.4,990.2 84.8,990 85.2,989.8 85.6,989.7 86,989.6 86.4,989.4 86.8,989.3 87.1,989.2 87.5,989.1 87.9,989 88.3,988.9 88.7,988.8 89.1,988.7 89.4,988.6 89.8,988.6 90.2,988.5 90.6,988.4 91,988.3 91.4,988.3 91.8,988.2 92.1,988.2 92.5,988.1 92.9,988.1 93.3,988 93.7,988 94.1,987.9 94.5,987.9 94.9,987.8 95.3,987.8 95.6,987.7 96,987.7 96.4,987.6 96.8,987.6 97.2,987.6 97.6,987.5 98,987.5 98.4,987.5 98.8,987.4 99.2,987.4 99.6,987.4 100,987.3 100.3,987.3 100.7,987.3 101.1,987.3 101.5,987.2 101.9,987.2 102.3,987.2 102.7,987.2 103.1,987.2 103.5,987.1 103.8,987.1 104.2,987.1 104.6,987.1 105,987.1 105.4,987 105.8,987 106.2,987 106.5,987 106.9,987 107.3,987 107.7,986.9 108.1,986.9 108.5,986.9 108.8,986.9 109.2,986.9 109.6,986.9 110,986.9 178.8,986.9 179.2,986.7 179.6,986.2 180,985.5 180.4,983.9 180.8,981.2 181.1,978.2 181.5,976 181.8,974.6 182.2,973.2 182.5,972 182.9,971.2 183.2,970.9 183.5,971.3 183.9,972.2 184.2,973.5 184.6,975 185,977.3 185.3,980.4 185.7,983.8 186.1,986.7 186.5,989.1 186.9,991.4 187.2,993.6 187.6,995.5 188,997 188.4,998.4 188.8,999.7 189.2,1000.8 189.6,1001.7 190,1002.3 190.4,1002.8 190.8,1003.2 191.2,1003.5 191.6,1003.6 192,1003.4 192.4,1003 192.7,1002.4 193.1,1001.7 193.5,1001 193.9,1000.3 194.2,999.5 194.6,998.7 194.9,997.8 195.3,996.9 195.7,996 196,995.2 196.4,994.5 196.8,993.8 197.2,993.1 197.6,992.4 198,991.8 198.4,991.1 198.7,990.5 199.1,990 199.5,989.6 199.9,989.3 200.3,989.1 200.7,989 201.1,988.8 201.5,988.7 201.9,988.6 202.3,988.5 202.7,988.5 203.1,988.4 203.5,988.3 203.9,988.3 204.2,988.2 204.6,988.1 205,988.1 205.4,988 205.8,988 206.2,987.9 206.6,987.9 207,987.8 207.4,987.8 207.8,987.7 208.2,987.7 208.6,987.6 209,987.6 209.4,987.5 209.8,987.5 210.2,987.4 210.6,987.4 211,987.3 211.4,987.3 211.8,987.2 212.2,987.2 212.5,987.2 212.9,987.1 213.3,987.1 213.7,987 214.1,987 214.5,987 214.9,987 215.3,986.9 215.7,986.9 216.1,986.9 216.5,986.9 216.9,986.9 293.7,986.9 294,986.7 294.4,986.3 294.7,985.7 295,985 295.3,984.1 295.6,982.8 296,981.5 296.3,980.5 296.6,980.1 297,980.5 297.4,981.4 297.8,982.5 298.2,983.8 298.5,985.4 298.9,986.8 299.2,987.8 299.6,988.7 299.9,989.5 300.3,990.3 300.6,990.9 301,991.5 301.4,992.1 301.8,992.6 302.2,993.1 302.6,993.5 303,993.7 303.4,993.9 303.7,994 304.1,994.1 304.4,994.2 304.8,994.2 305.2,994.1 305.5,993.9 305.9,993.6 306.3,993.2 306.6,992.8 307,992.5 307.4,992.1 307.8,991.7 308.1,991.3 308.5,990.9 308.9,990.5 309.2,990.1 309.6,989.8 310,989.5 310.4,989.3 310.8,989.1 311.2,988.9 311.6,988.7 312,988.5 312.4,988.3 312.7,988.2 313.1,988.1 313.5,987.9 313.9,987.8 314.3,987.8 314.7,987.7 315.1,987.7 315.5,987.6 315.9,987.6 316.3,987.5 316.7,987.5 317,987.4 317.4,987.4 317.8,987.4 318.2,987.3 318.6,987.3 319,987.3 319.4,987.2 319.8,987.2 320.2,987.2 320.6,987.1 321,987.1 321.3,987.1 321.7,987.1 322.1,987 322.5,987 322.9,987 323.3,987 323.7,987 324.1,987 324.5,986.9 324.9,986.9 325.3,986.9 325.6,986.9 326,986.9 326.4,986.9 326.8,986.9 327.2,986.9 327.6,986.9 408.5,986.9 408.8,987.2 409.1,987.9 409.5,988.9 409.8,990 410.2,992 410.5,995.1 410.9,998.8 411.3,1002.6 411.6,1006.2 412,1009 412.4,1011.3 412.8,1013.6 413.1,1015.7 413.5,1017.7 413.9,1019.5 414.2,1021.1 414.6,1022.4 415,1023.5 415.4,1024.4 415.8,1025.3 416.2,1026.2 416.6,1026.9 416.9,1027.6 417.3,1028.2 417.7,1028.6 418.1,1028.9 418.5,1029 418.9,1028.9 419.2,1028.7 419.6,1028.3 420,1027.8 420.4,1027.3 420.8,1026.7 421.1,1026.1 421.5,1025.5 421.9,1024.8 422.3,1024.1 422.7,1023.2 423.1,1022.2 423.5,1021.2 423.9,1020.2 424.2,1019.1 424.6,1017.9 425,1016.8 425.4,1015.7 425.8,1014.6 426.2,1013.5 426.6,1012.4 427,1011.3 427.4,1010.2 427.8,1009.1 428.2,1007.9 428.6,1006.8 429,1005.6 429.4,1004.5 429.8,1003.3 430.2,1002.2 430.6,1001 431,999.9 431.4,998.7 431.8,997.6 432.2,996.5 432.6,995.5 432.9,994.4 433.3,993.3 433.7,992.2 434,991.1 434.4,990 434.8,988.9 435.2,987.9 435.5,986.9 435.9,985.9 436.3,985.1 436.6,984.3 437,983.6 437.4,983 437.8,982.3 438.1,981.7 438.5,981.1 438.9,980.6 439.2,980 439.6,979.5 440,979.1 440.4,978.7 440.8,978.3 441.1,978 441.5,977.8 441.9,977.6 442.3,977.4 442.7,977.2 443.1,977 443.5,976.8 443.9,976.7 444.2,976.5 444.6,976.4 445,976.3 445.4,976.3 445.8,976.2 446.2,976.2 446.6,976.2 447,976.3 447.4,976.4 447.8,976.6 448.2,976.8 448.5,977 448.9,977.3 449.3,977.5 449.7,977.8 450.1,978 450.5,978.3 450.9,978.6 451.3,978.9 451.6,979.2 452,979.6 452.4,979.9 452.8,980.3 453.2,980.7 453.6,981.1 454,981.5 454.3,981.9 454.7,982.3 455.1,982.6 455.5,982.9 455.9,983.3 456.3,983.7 456.7,984 457.1,984.4 457.5,984.8 457.9,985.1 458.3,985.5 458.7,985.8 459.1,986.1 459.5,986.5 459.9,986.8 460.3,987 460.7,987.3 461.1,987.5 461.5,987.7 461.9,987.9 462.3,988 462.7,988.1 463.1,988.2 463.5,988.3 463.9,988.4 464.2,988.5 464.6,988.6 465,988.7 465.4,988.8 465.8,988.9 466.2,988.9 466.6,989 467,989.1 467.4,989.2 467.8,989.2 468.1,989.3 468.5,989.3 468.9,989.4 469.3,989.4 469.7,989.5 470.1,989.5 470.5,989.6 470.9,989.6 471.3,989.6 471.6,989.7 472,989.7 472.4,989.7 472.8,989.7 473.2,989.7 473.6,989.7 474,989.7 474.4,989.7 474.8,989.7 475.2,989.7 475.6,989.6 476,989.6 476.3,989.6 476.7,989.6 477.1,989.5 477.5,989.5 477.9,989.5 478.3,989.4 478.7,989.4 479.1,989.4 479.5,989.3 479.9,989.3 480.3,989.2 480.7,989.2 481.1,989.2 481.5,989.1 481.9,989.1 482.2,989 482.6,989 483,988.9 483.4,988.9 483.8,988.8 484.2,988.8 484.6,988.7 485,988.7 485.4,988.6 485.8,988.6 486.2,988.5 486.6,988.5 487,988.4 487.4,988.4 487.8,988.3 488.2,988.3 488.5,988.2 488.9,988.2 489.3,988.2 489.7,988.1 490.1,988.1 490.5,988.1 490.9,988 491.3,988 491.7,988 492.1,987.9 492.5,987.9 492.9,987.9 493.3,987.9 493.7,987.8 494.1,987.8 494.5,987.8 494.8,987.7 495.2,987.7 495.6,987.7 496,987.6 496.4,987.6 496.8,987.6 497.2,987.6 497.6,987.5 498,987.5 498.4,987.5 498.8,987.4 499.2,987.4 499.6,987.4 500,987.3 500.4,987.3 500.8,987.3 501.1,987.3 501.5,987.2 501.9,987.2 502.3,987.2 502.7,987.2 503.1,987.1 503.5,987.1 503.9,987.1 504.3,987.1 504.7,987.1 505.1,987 505.5,987 505.9,987 506.3,987 506.7,987 507.1,987 507.4,986.9 507.8,986.9 508.2,986.9 508.6,986.9 509,986.9 509.4,986.9 509.8,986.9 510.2,986.9 510.6,986.9 638.6,986.9" stroke="#ff0000" stroke-width="3.6"/>
</g>
<rect x="65.0" y="883.7" width="573.6" height="344" stroke="#626262" stroke-width="1.6" fill="none"/>
<text transform="translate(65,1246.5) scale(1.13,1)" font-family="Liberation Sans, sans-serif" font-size="15.6" text-anchor="middle" fill="#161616" stroke="#161616" stroke-width="0.1" >0</text>
<text transform="translate(146.9,1246.5) scale(1.13,1)" font-family="Liberation Sans, sans-serif" font-size="15.6" text-anchor="middle" fill="#161616" stroke="#161616" stroke-width="0.1" >5</text>
<text transform="translate(228.9,1246.5) scale(1.13,1)" font-family="Liberation Sans, sans-serif" font-size="15.6" text-anchor="middle" fill="#161616" stroke="#161616" stroke-width="0.1" >10</text>
<text transform="translate(310.8,1246.5) scale(1.13,1)" font-family="Liberation Sans, sans-serif" font-size="15.6" text-anchor="middle" fill="#161616" stroke="#161616" stroke-width="0.1" >15</text>
<text transform="translate(392.8,1246.5) scale(1.13,1)" font-family="Liberation Sans, sans-serif" font-size="15.6" text-anchor="middle" fill="#161616" stroke="#161616" stroke-width="0.1" >20</text>
<text transform="translate(474.7,1246.5) scale(1.13,1)" font-family="Liberation Sans, sans-serif" font-size="15.6" text-anchor="middle" fill="#161616" stroke="#161616" stroke-width="0.1" >25</text>
<text transform="translate(556.7,1246.5) scale(1.13,1)" font-family="Liberation Sans, sans-serif" font-size="15.6" text-anchor="middle" fill="#161616" stroke="#161616" stroke-width="0.1" >30</text>
<text transform="translate(638.6,1246.5) scale(1.13,1)" font-family="Liberation Sans, sans-serif" font-size="15.6" text-anchor="middle" fill="#161616" stroke="#161616" stroke-width="0.1" >35</text>
<text transform="translate(59.4,1233.5) scale(1.075,1)" font-family="Liberation Sans, sans-serif" font-size="16.2" text-anchor="end" fill="#161616" stroke="#161616" stroke-width="0.1" >-0.7</text>
<text transform="translate(59.4,1199.1) scale(1.075,1)" font-family="Liberation Sans, sans-serif" font-size="16.2" text-anchor="end" fill="#161616" stroke="#161616" stroke-width="0.1" >-0.6</text>
<text transform="translate(59.4,1164.7) scale(1.075,1)" font-family="Liberation Sans, sans-serif" font-size="16.2" text-anchor="end" fill="#161616" stroke="#161616" stroke-width="0.1" >-0.5</text>
<text transform="translate(59.4,1130.3) scale(1.075,1)" font-family="Liberation Sans, sans-serif" font-size="16.2" text-anchor="end" fill="#161616" stroke="#161616" stroke-width="0.1" >-0.4</text>
<text transform="translate(59.4,1095.9) scale(1.075,1)" font-family="Liberation Sans, sans-serif" font-size="16.2" text-anchor="end" fill="#161616" stroke="#161616" stroke-width="0.1" >-0.3</text>
<text transform="translate(59.4,1061.5) scale(1.075,1)" font-family="Liberation Sans, sans-serif" font-size="16.2" text-anchor="end" fill="#161616" stroke="#161616" stroke-width="0.1" >-0.2</text>
<text transform="translate(59.4,1027.1) scale(1.075,1)" font-family="Liberation Sans, sans-serif" font-size="16.2" text-anchor="end" fill="#161616" stroke="#161616" stroke-width="0.1" >-0.1</text>
<text transform="translate(59.4,992.7) scale(1.075,1)" font-family="Liberation Sans, sans-serif" font-size="16.2" text-anchor="end" fill="#161616" stroke="#161616" stroke-width="0.1" >0</text>
<text transform="translate(59.4,958.3) scale(1.075,1)" font-family="Liberation Sans, sans-serif" font-size="16.2" text-anchor="end" fill="#161616" stroke="#161616" stroke-width="0.1" >0.1</text>
<text transform="translate(59.4,923.9) scale(1.075,1)" font-family="Liberation Sans, sans-serif" font-size="16.2" text-anchor="end" fill="#161616" stroke="#161616" stroke-width="0.1" >0.2</text>
<text transform="translate(59.4,889.5) scale(1.075,1)" font-family="Liberation Sans, sans-serif" font-size="16.2" text-anchor="end" fill="#161616" stroke="#161616" stroke-width="0.1" >0.3</text>
<text transform="translate(351.8,1265.2) scale(1.2,1)" font-family="Liberation Sans, sans-serif" font-size="15.3" text-anchor="middle" fill="#161616" stroke="#161616" stroke-width="0.1" >Time (s)</text>
<text transform="translate(14.2,1022.5) rotate(-90)" font-family="Liberation Serif, serif" font-size="19.5" text-anchor="middle" fill="#161616" stroke="#161616" stroke-width="0.3">Δ<tspan font-style="italic">f</tspan><tspan dx="1.5"> (Hz)</tspan></text>
<rect x="74" y="1147.2" width="218.3" height="71" fill="#fff" stroke="#444" stroke-width="1.3"/>
<path d="M83.5,1161.2 H137.8" stroke="#0000ff" stroke-width="2.8"/>
<text transform="translate(143.6,1165.8) scale(1.226,1)" font-family="Liberation Sans, sans-serif" font-size="14.6" text-anchor="start" fill="#161616" stroke="#161616" stroke-width="0.1" >PSO-Fuzzy SMC</text>
<path d="M83.5,1182.6 H137.8" stroke="#00ff00" stroke-width="2.8"/>
<text transform="translate(143.6,1187.2) scale(1.226,1)" font-family="Liberation Sans, sans-serif" font-size="14.6" text-anchor="start" fill="#161616" stroke="#161616" stroke-width="0.1" >GWO-Fuzzy SMC</text>
<path d="M83.5,1204.2 H137.8" stroke="#ff0000" stroke-width="2.8"/>
<text transform="translate(143.6,1208.8) scale(1.226,1)" font-family="Liberation Sans, sans-serif" font-size="14.6" text-anchor="start" fill="#161616" stroke="#161616" stroke-width="0.1" >GTO-Fuzzy SMC</text>
<text transform="translate(330.3,1322.1) scale(1.15,1)" font-family="Liberation Sans, sans-serif" font-size="18" fill="#161616" stroke="#161616" stroke-width="0.9" stroke-linejoin="round">(</text>
<text x="338.3" y="1324.6" font-family="Liberation Sans, sans-serif" font-size="18.3" font-weight="bold" fill="#161616" stroke="#161616" stroke-width="0.3">c</text>
<text transform="translate(350.9,1322.1) scale(1.15,1)" font-family="Liberation Sans, sans-serif" font-size="18" fill="#161616" stroke="#161616" stroke-width="0.9" stroke-linejoin="round">)</text>
</g>
</svg>
</body></html>
